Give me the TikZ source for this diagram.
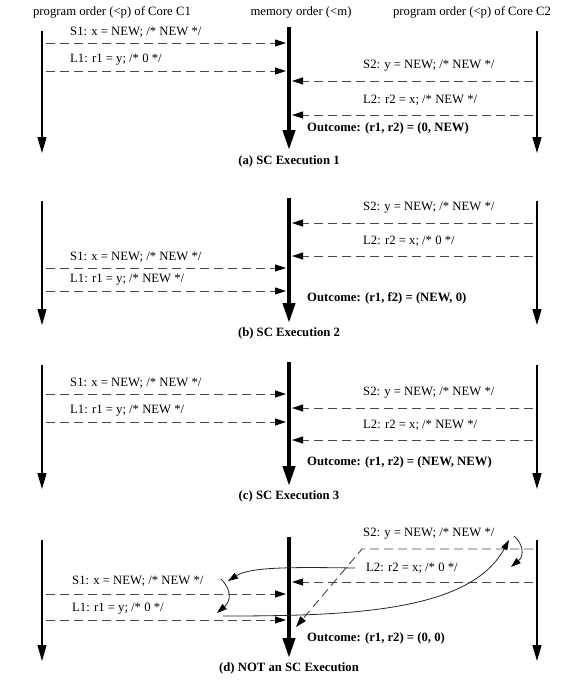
\documentclass[tikz,border=0pt]{standalone}
\usepackage{fontspec}
\setmainfont{Liberation Serif}
\usetikzlibrary{arrows.meta}
\begin{document}
\begin{tikzpicture}[x=1pt,y=-1pt,
  txt/.style={font=\fontsize{12.7}{15}\selectfont, inner sep=0pt},
  lbl/.style={txt, anchor=west},
  outc/.style={anchor=west, inner sep=0pt, font=\fontsize{12.7}{15}\selectfont\bfseries},
  capt/.style={inner sep=0pt, font=\fontsize{12.7}{15}\selectfont\bfseries},
  core/.style={line width=1.3pt, -{Triangle[length=16pt,width=9pt]}},
  mem/.style={line width=4pt, -{Triangle[length=20pt,width=12pt]}},
  msg/.style={line width=0.9pt, black!72, dash pattern=on 9pt off 5pt, -{Triangle[length=11pt,width=7pt,color=black]}},
  rel/.style={line width=0.8pt, black!85, -{Triangle[length=10pt,width=6.5pt,color=black]}},
]
\useasboundingbox (0,0) rectangle (577,681);

% headers
\node[txt] (hC1) at (112,12) {program order (<p) of Core C1};
\node[txt] (hM) at (301,12) {memory order (<m)};
\node[txt] (hC2) at (472,12) {program order (<p) of Core C2};

% ---------------- panel (a)
\coordinate (aC1t) at (42,31);  \coordinate (aC1b) at (42,153);
\coordinate (aMt) at (289,27);  \coordinate (aMb) at (289,150);
\coordinate (aC2t) at (537,31); \coordinate (aC2b) at (537,153);
\draw[core] (aC1t) -- (aC1b);
\draw[mem] (aMt) -- (aMb);
\draw[core] (aC2t) -- (aC2b);
\node[lbl] (aS1) at (70,32) {S1: x = NEW; /* NEW */};
\node[lbl] (aL1) at (70,60) {L1: r1 = y; /* 0 */};
\node[lbl] (aS2) at (363,66) {S2: y = NEW; /* NEW */};
\node[lbl] (aL2) at (363,100) {L2: r2 = x; /* NEW */};
\coordinate (aS1s) at (46,43);  \coordinate (aS1e) at (286,43);
\coordinate (aL1s) at (46,71);  \coordinate (aL1e) at (286,71);
\coordinate (aS2s) at (533,81); \coordinate (aS2e) at (292,81);
\coordinate (aL2s) at (533,115); \coordinate (aL2e) at (292,115);
\draw[msg] (aS1s) -- (aS1e);
\draw[msg] (aL1s) -- (aL1e);
\draw[msg] (aS2s) -- (aS2e);
\draw[msg] (aL2s) -- (aL2e);
\node[outc] (aO) at (307,128) {Outcome: (r1, r2) = (0, NEW)};
\node[capt] (aCap) at (289,161) {(a) SC Execution 1};

% ---------------- panel (b)
\coordinate (bC1t) at (42,201);  \coordinate (bC1b) at (42,325);
\coordinate (bMt) at (289,198);  \coordinate (bMb) at (289,323);
\coordinate (bC2t) at (537,201); \coordinate (bC2b) at (537,325);
\draw[core] (bC1t) -- (bC1b);
\draw[mem] (bMt) -- (bMb);
\draw[core] (bC2t) -- (bC2b);
\node[lbl] (bS2) at (363,208) {S2: y = NEW; /* NEW */};
\node[lbl] (bL2) at (363,241) {L2: r2 = x; /* 0 */};
\node[lbl] (bS1) at (70,257) {S1: x = NEW; /* NEW */};
\node[lbl] (bL1) at (70,280) {L1: r1 = y; /* NEW */};
\coordinate (bS2s) at (533,223); \coordinate (bS2e) at (292,223);
\coordinate (bL2s) at (533,256); \coordinate (bL2e) at (292,256);
\coordinate (bS1s) at (46,268);  \coordinate (bS1e) at (286,268);
\coordinate (bL1s) at (46,291);  \coordinate (bL1e) at (286,291);
\draw[msg] (bS2s) -- (bS2e);
\draw[msg] (bL2s) -- (bL2e);
\draw[msg] (bS1s) -- (bS1e);
\draw[msg] (bL1s) -- (bL1e);
\node[outc] (bO) at (307,298) {Outcome: (r1, f2) = (NEW, 0)};
\node[capt] (bCap) at (289,333) {(b) SC Execution 2};

% ---------------- panel (c)
\coordinate (cC1t) at (42,365);  \coordinate (cC1b) at (42,489);
\coordinate (cMt) at (289,362);  \coordinate (cMb) at (289,486);
\coordinate (cC2t) at (537,365); \coordinate (cC2b) at (537,489);
\draw[core] (cC1t) -- (cC1b);
\draw[mem] (cMt) -- (cMb);
\draw[core] (cC2t) -- (cC2b);
\node[lbl] (cS1) at (70,383) {S1: x = NEW; /* NEW */};
\node[lbl] (cS2) at (363,393) {S2: y = NEW; /* NEW */};
\node[lbl] (cL1) at (70,411) {L1: r1 = y; /* NEW */};
\node[lbl] (cL2) at (363,425) {L2: r2 = x; /* NEW */};
\coordinate (cS1s) at (46,394);  \coordinate (cS1e) at (286,394);
\coordinate (cS2s) at (533,408); \coordinate (cS2e) at (292,408);
\coordinate (cL1s) at (46,422);  \coordinate (cL1e) at (286,422);
\coordinate (cL2s) at (533,440); \coordinate (cL2e) at (292,440);
\draw[msg] (cS1s) -- (cS1e);
\draw[msg] (cS2s) -- (cS2e);
\draw[msg] (cL1s) -- (cL1e);
\draw[msg] (cL2s) -- (cL2e);
\node[outc] (cO) at (307,462) {Outcome: (r1, r2) = (NEW, NEW)};
\node[capt] (cCap) at (289,496) {(c) SC Execution 3};

% ---------------- panel (d)
\coordinate (dC1t) at (42,540);  \coordinate (dC1b) at (42,661);
\coordinate (dMt) at (289,537);  \coordinate (dMb) at (289,658);
\coordinate (dC2t) at (537,540); \coordinate (dC2b) at (537,661);
\draw[core] (dC1t) -- (dC1b);
\draw[mem] (dMt) -- (dMb);
\draw[core] (dC2t) -- (dC2b);
\node[lbl] (dS2) at (363,534) {S2: y = NEW; /* NEW */};
\node[lbl] (dL2) at (366,568) {L2: r2 = x; /* 0 */};
\node[lbl] (dS1) at (72,581) {S1: x = NEW; /* NEW */};
\node[lbl] (dL1) at (72,609) {L1: r1 = y; /* 0 */};
\coordinate (dS2s) at (533,549); \coordinate (dS2k) at (362,549); \coordinate (dS2e) at (296,627);
\coordinate (dL2s) at (533,582); \coordinate (dL2e) at (292,582);
\coordinate (dS1s) at (46,594);  \coordinate (dS1e) at (286,594);
\coordinate (dL1s) at (46,620);  \coordinate (dL1e) at (286,620);
\draw[msg] (dS2s) -- (dS2k) -- (dS2e);
\draw[msg] (dL2s) -- (dL2e);
\draw[msg] (dS1s) -- (dS1e);
\draw[msg] (dL1s) -- (dL1e);
% cycle of order relations
\coordinate (rL2a) at (355,568); \coordinate (rL2b) at (228,581);
\coordinate (rS1a) at (221,579); \coordinate (rS1b) at (217,613);
\coordinate (rL1a) at (223,616); \coordinate (rL1b) at (509,540);
\coordinate (rS2a) at (514,536); \coordinate (rS2b) at (511,567);
\draw[rel] (rL2a) .. controls (290,567) and (250,567) .. (rL2b);
\draw[rel] (rS1a) .. controls (232,590) and (231,601) .. (rS1b);
\draw[rel] (rL1a) .. controls (350,616) and (470,612) .. (rL1b);
\draw[rel] (rS2a) .. controls (524,545) and (524,556) .. (rS2b);
\node[outc] (dO) at (307,638) {Outcome: (r1, r2) = (0, 0)};
\node[capt] (dCap) at (289,668) {(d) NOT an SC Execution};
\end{tikzpicture}
\end{document}
